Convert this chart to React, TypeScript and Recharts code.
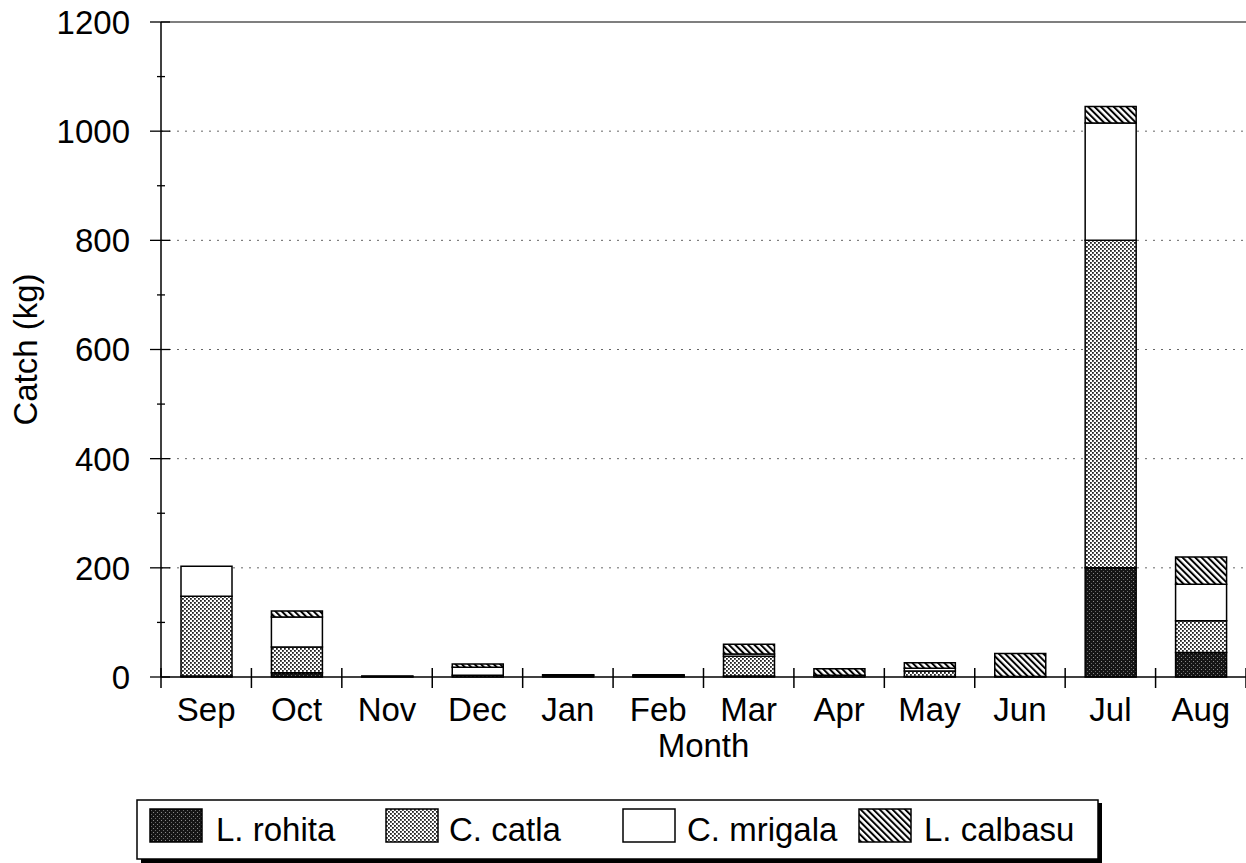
import { BarChart, Bar, XAxis, YAxis, CartesianGrid, ReferenceLine, Legend } from 'recharts'

const months = ['Sep', 'Oct', 'Nov', 'Dec', 'Jan', 'Feb', 'Mar', 'Apr', 'May', 'Jun', 'Jul', 'Aug']
const rohita = [2, 8, 1, 0, 3, 1, 2, 0, 1, 0, 200, 45]
const catla = [146, 47, 0, 3, 1, 1, 36, 3, 10, 1, 600, 58]
const mrigala = [55, 55, 1, 15, 0, 1, 4, 0, 5, 0, 215, 67]
const calbasu = [0, 11, 0, 6, 0, 1, 18, 12, 10, 42, 30, 50]
const yTicks = [0, 100, 200, 300, 400, 500, 600, 700, 800, 900, 1000, 1100, 1200]
const gridValues = [200, 400, 600, 800, 1000]

const data = months.map((month, i) => ({
  month,
  rohita: rohita[i],
  catla: catla[i],
  mrigala: mrigala[i],
  calbasu: calbasu[i],
}))

const W = 1246
const H = 863
const AXIS_X = 161
const PLOT_TOP = 22
const PLOT_BOTTOM = 677
const BAND = (W - AXIS_X) / months.length
const FONT = 'Liberation Sans, Arial, sans-serif'

const legendItems = [
  { label: 'L. rohita', fill: 'url(#rohitaPat)', sx: 14, tx: 80 },
  { label: 'C. catla', fill: 'url(#catlaPat)', sx: 250, tx: 313 },
  { label: 'C. mrigala', fill: '#fff', sx: 487, tx: 551 },
  { label: 'L. calbasu', fill: 'url(#calbasuPat)', sx: 723, tx: 788 },
]

function MonthTick({ x, payload, index }: any) {
  const half = BAND / 2
  return (
    <g>
      {index === 0 && (
        <line x1={x - half} x2={x - half} y1={PLOT_BOTTOM - 9} y2={PLOT_BOTTOM + 11} stroke="#000" strokeWidth={1.5} />
      )}
      <line x1={x + half} x2={x + half} y1={PLOT_BOTTOM - 9} y2={PLOT_BOTTOM + 11} stroke="#000" strokeWidth={1.5} />
      <text x={x} y={PLOT_BOTTOM + 44} textAnchor="middle" fontSize={33} fontFamily={FONT} fill="#000">
        {payload.value}
      </text>
    </g>
  )
}

function CatchTick({ y, payload }: any) {
  const major = payload.value % 200 === 0
  return (
    <g>
      <line x1={major ? 150 : 157} x2={major ? 170 : 165} y1={y} y2={y} stroke="#000" strokeWidth={1.3} />
      {major && (
        <text x={130} y={y} dy="0.36em" textAnchor="end" fontSize={33} fontFamily={FONT} fill="#000">
          {payload.value}
        </text>
      )}
    </g>
  )
}

function CatchLabel({ viewBox }: any) {
  const cy = viewBox.y + viewBox.height / 2
  return (
    <text
      x={37}
      y={cy}
      transform={`rotate(-90, 37, ${cy})`}
      textAnchor="middle"
      fontSize={33}
      fontFamily={FONT}
      fill="#000"
    >
      Catch (kg)
    </text>
  )
}

function LegendBox() {
  return (
    <svg width={970} height={63} style={{ display: 'block', overflow: 'visible' }}>
      <rect x={5} y={4} width={961} height={60} fill="#000" />
      <rect x={1} y={1} width={961} height={59} fill="#fff" stroke="#000" strokeWidth={1.5} />
      {legendItems.map(item => (
        <g key={item.label}>
          <rect x={item.sx} y={10} width={52} height={33} fill={item.fill} stroke="#000" strokeWidth={1.5} />
          <text x={item.tx} y={42} fontSize={33} fontFamily={FONT} fill="#000">
            {item.label}
          </text>
        </g>
      ))}
    </svg>
  )
}

export default function App() {
  return (
    <div style={{ position: 'absolute', left: 0, top: 0, width: W, height: H, overflow: 'hidden', background: '#fff' }}>
      <BarChart width={W} height={H} data={data} margin={{ top: PLOT_TOP, right: 0, left: 0, bottom: 0 }} barSize={51}>
        <defs>
          <pattern id="rohitaPat" width={4} height={4} patternUnits="userSpaceOnUse">
            <rect width={4} height={4} fill="#151515" />
            <rect x={1} y={1} width={1} height={1} fill="#8a8a8a" />
            <rect x={3} y={3} width={1} height={1} fill="#6a6a6a" />
          </pattern>
          <pattern id="catlaPat" width={4} height={4} patternUnits="userSpaceOnUse">
            <rect width={4} height={4} fill="#fff" />
            <rect x={0} y={0} width={1.8} height={1.8} fill="#222" />
            <rect x={2} y={2} width={1.8} height={1.8} fill="#222" />
          </pattern>
          <pattern id="calbasuPat" width={4.5} height={10} patternUnits="userSpaceOnUse" patternTransform="rotate(-45)">
            <rect width={4.5} height={10} fill="#fff" />
            <rect x={0} y={0} width={2} height={10} fill="#000" />
          </pattern>
        </defs>
        <CartesianGrid vertical={false} horizontalValues={gridValues} stroke="#666" strokeDasharray="2 6" />
        <ReferenceLine y={1200} stroke="#555" strokeWidth={1.5} />
        <XAxis
          dataKey="month"
          height={H - PLOT_BOTTOM}
          tickLine={false}
          axisLine={{ stroke: '#000', strokeWidth: 1.5 }}
          interval={0}
          tick={<MonthTick />}
          label={{ value: 'Month', position: 'insideTop', dy: 52, fontSize: 33, fontFamily: FONT, fill: '#000' }}
        />
        <YAxis
          width={AXIS_X}
          domain={[0, 1200]}
          ticks={yTicks}
          interval={0}
          tickLine={false}
          axisLine={{ stroke: '#000', strokeWidth: 1.5 }}
          tick={<CatchTick />}
          label={<CatchLabel />}
        />
        <Bar dataKey="rohita" stackId="a" fill="url(#rohitaPat)" stroke="#000" strokeWidth={1.5} isAnimationActive={false} />
        <Bar dataKey="catla" stackId="a" fill="url(#catlaPat)" stroke="#000" strokeWidth={1.5} isAnimationActive={false} />
        <Bar dataKey="mrigala" stackId="a" fill="#fff" stroke="#000" strokeWidth={1.5} isAnimationActive={false} />
        <Bar dataKey="calbasu" stackId="a" fill="url(#calbasuPat)" stroke="#000" strokeWidth={1.5} isAnimationActive={false} />
        <Legend
          layout="horizontal"
          verticalAlign="middle"
          align="center"
          content={<LegendBox />}
          wrapperStyle={{ position: 'absolute', left: 136, top: 799, width: 970, height: 63 }}
        />
      </BarChart>
    </div>
  )
}
